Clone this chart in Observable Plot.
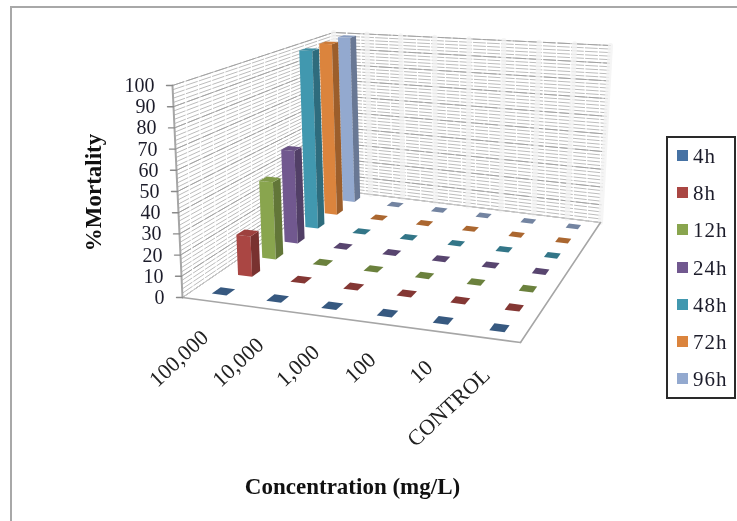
<!DOCTYPE html>
<html><head><meta charset="utf-8">
<script src="https://cdn.jsdelivr.net/npm/d3@7"></script>
<script src="https://cdn.jsdelivr.net/npm/@observablehq/plot@0.6"></script>
<style>
html,body{margin:0;padding:0;background:#fff;}
#chart{position:relative;width:737px;height:521px;overflow:hidden;font-family:"Liberation Serif",serif;color:#1c1c2a;}
#chart svg{position:absolute;left:0;top:0;filter:blur(.45px);background:transparent;}
#frame{position:absolute;left:10px;top:6px;right:-10px;bottom:-10px;border:2.5px solid #a8a8a8;}
#legend{position:absolute;left:666px;top:136px;width:66px;height:259px;border:2px solid #2a2a2a;background:#fff;filter:blur(.3px);}
.item{position:absolute;left:9px;font-size:21px;line-height:24px;height:24px;white-space:nowrap;letter-spacing:1px;}
.item i{position:absolute;left:0;top:6px;width:11px;height:11px;}
.item span{position:absolute;left:16px;top:0;}
</style></head><body>
<div id="chart"><div id="frame"></div><div id="legend"></div></div>
<script>
// ---- data ----
const categories = ["100,000","10,000","1,000","100","10","CONTROL"];
const seriesNames = ["4h","8h","12h","24h","48h","72h","96h"];
const seriesColors = ["#4672a4","#aa4643","#89a54e","#71588f","#4198af","#db843d","#93a9cf"];
const v4h  = [0,0,0,0,0,0];
const v8h  = [20,0,0,0,0,0];
const v12h = [40,0,0,0,0,0];
const v24h = [50,0,0,0,0,0];
const v48h = [100,0,0,0,0,0];
const v72h = [100,0,0,0,0,0];
const v96h = [100,0,0,0,0,0];
const seriesValues = [v4h,v8h,v12h,v24h,v48h,v72h,v96h];
const yTicks = [0,10,20,30,40,50,60,70,80,90,100];
const yMinor = d3.range(0,101,2);
const backBands = d3.range(0,9).map(d=>d/8);

// ---- camera: where the corners of the plot box fall in the picture ----
const floorQuad = [[182,297],[520,342],[600,222],[338,190]];
const topQuad   = [[172,85],[526,105],[610,45],[333,32]];
const barW = 0.27, barD = 0.33;

function homography([[x0,y0],[x1,y1],[x2,y2],[x3,y3]]){
  const dx1=x1-x2,dx2=x3-x2,sx=x0-x1+x2-x3,dy1=y1-y2,dy2=y3-y2,sy=y0-y1+y2-y3;
  const det=dx1*dy2-dx2*dy1;
  const i=(sx*dy2-dx2*sy)/det, j=(dx1*sy-sx*dy1)/det;
  const a=x1-x0+i*x1,b=x3-x0+j*x3,e=y1-y0+i*y1,f=y3-y0+j*y3;
  return (x,z)=>{const w=i*x+j*z+1;return [(a*x+b*z+x0)/w,(e*x+f*z+y0)/w];};
}
const floorH = homography(floorQuad), topH = homography(topQuad);
const P = (x,z,val)=>{
  const t=val/100,[ax,ay]=floorH(x,z),[bx,by]=topH(x,z);
  return [ax+(bx-ax)*t,ay+(by-ay)*t];
};

// ---- faces of the bars, back to front ----
const faces=[];
function addFace(id,fill,pts){pts.forEach(p=>{const [px,py]=P(...p);faces.push({id,fill,px,py});});}
d3.range(seriesNames.length-1,-1,-1).forEach(si=>{
  categories.forEach((cat,ci)=>{
    const val=seriesValues[si][ci], col=d3.color(seriesColors[si]);
    const x0=(ci+.5-barW/2)/categories.length, x1=(ci+.5+barW/2)/categories.length;
    const z0=(si+.5-barD/2)/seriesNames.length, z1=(si+.5+barD/2)/seriesNames.length;
    const id=`${si}-${ci}`;
    if(val>0){
      addFace(id+"f",col.formatHex(),[[x0,z0,0],[x1,z0,0],[x1,z0,val],[x0,z0,val]]);
      addFace(id+"s",col.darker(.95).formatHex(),[[x1,z0,0],[x1,z1,0],[x1,z1,val],[x1,z0,val]]);
      addFace(id+"t",col.darker(.2).formatHex(),[[x0,z0,val],[x1,z0,val],[x1,z1,val],[x0,z1,val]]);
    } else {
      addFace(id+"t",col.darker(.7).formatHex(),[[x0,z0,0],[x1,z0,0],[x1,z1,0],[x0,z1,0]]);
    }
  });
});

// ---- grid lines ----
const seg=(id,a,b)=>[{id,px:a[0],py:a[1]},{id,px:b[0],py:b[1]}];
const minorLines=yMinor.flatMap(v=>[
  ...seg("l"+v,P(0,0,v),P(0,1,v)),
  ...seg("b"+v,P(0,1,v),P(1,1,v))]);
const majorLines=yTicks.flatMap(v=>[
  ...seg("l"+v,P(0,0,v),P(0,1,v)),
  ...seg("b"+v,P(0,1,v),P(1,1,v))]);
const bandLines=backBands.flatMap(f=>seg("v"+f,P(f,1,0),P(f,1,100)));
const floorEdges=[...seg("front",P(0,0,0),P(1,0,0)),...seg("right",P(1,0,0),P(1,1,0))];
const floorThin=[...seg("left",P(0,0,0),P(0,1,0)),...seg("back",P(0,1,0),P(1,1,0))];
const axisLine=seg("axis",P(0,0,0),P(0,0,100));
const tickLines=yTicks.flatMap(v=>{const p=P(0,0,v);return seg("t"+v,[p[0]-6,p[1]],p);});

const yLabels=yTicks.map(v=>{const p=P(0,0,v);return {t:String(v),px:p[0],py:p[1]};});
const xLabels=categories.map((t,i)=>{const p=P((i+.5)/categories.length,0,0);return {t,px:p[0],py:p[1]};});

const font="Liberation Serif";
const lineOpt={x:"px",y:"py",z:"id"};
const svg=Plot.plot({
  width:737,height:521,margin:0,
  x:{domain:[0,737],axis:null},y:{domain:[521,0],axis:null},
  style:{background:"transparent"},
  marks:[
    Plot.line(minorLines,{...lineOpt,stroke:"#bcbcbc",strokeWidth:1,strokeDasharray:"12 2"}),
    Plot.line(majorLines,{...lineOpt,stroke:"#a2a2a2",strokeWidth:1,strokeDasharray:"12 3"}),
    Plot.line(bandLines,{...lineOpt,stroke:"#f2f2f2",strokeWidth:5,strokeOpacity:.8}),
    Plot.line(floorThin,{...lineOpt,stroke:"#c8c8c8",strokeWidth:1}),
    Plot.line(floorEdges,{...lineOpt,stroke:"#a6a6a6",strokeWidth:1.6}),
    Plot.line(axisLine,{...lineOpt,stroke:"#a6a6a6",strokeWidth:2}),
    Plot.line(tickLines,{...lineOpt,stroke:"#8a8a8a",strokeWidth:1.4}),
    Plot.line(faces,{x:"px",y:"py",z:"id",fill:"fill",stroke:"none"}),
    Plot.text(yLabels,{x:"px",y:"py",text:"t",dx:-18,textAnchor:"end",fontFamily:font,fontSize:20,letterSpacing:1.5,fill:"#1c1c2a"}),
    Plot.text(xLabels,{x:"px",y:"py",text:"t",dx:-5,dy:33,rotate:-43,textAnchor:"end",fontFamily:font,fontSize:22,fill:"#222"}),
    Plot.text(["%Mortality"],{x:[93],y:[192],text:d=>d,rotate:-90,fontFamily:font,fontWeight:"bold",fontSize:23,fill:"#111"}),
    Plot.text(["Concentration (mg/L)"],{x:[352],y:[486],text:d=>d,fontFamily:font,fontWeight:"bold",fontSize:23,fill:"#111"})
  ]
});
document.getElementById("chart").appendChild(svg);

// legend
const legend=document.getElementById("legend");
seriesNames.forEach((n,i)=>{
  const d=document.createElement("div");
  d.className="item";
  d.style.top=(6+i*37.2)+"px";
  d.innerHTML=`<i style="background:${seriesColors[i]}"></i><span>${n}</span>`;
  legend.appendChild(d);
});
// keep legend above the plot
document.getElementById("chart").appendChild(legend);
</script>
</body></html>
